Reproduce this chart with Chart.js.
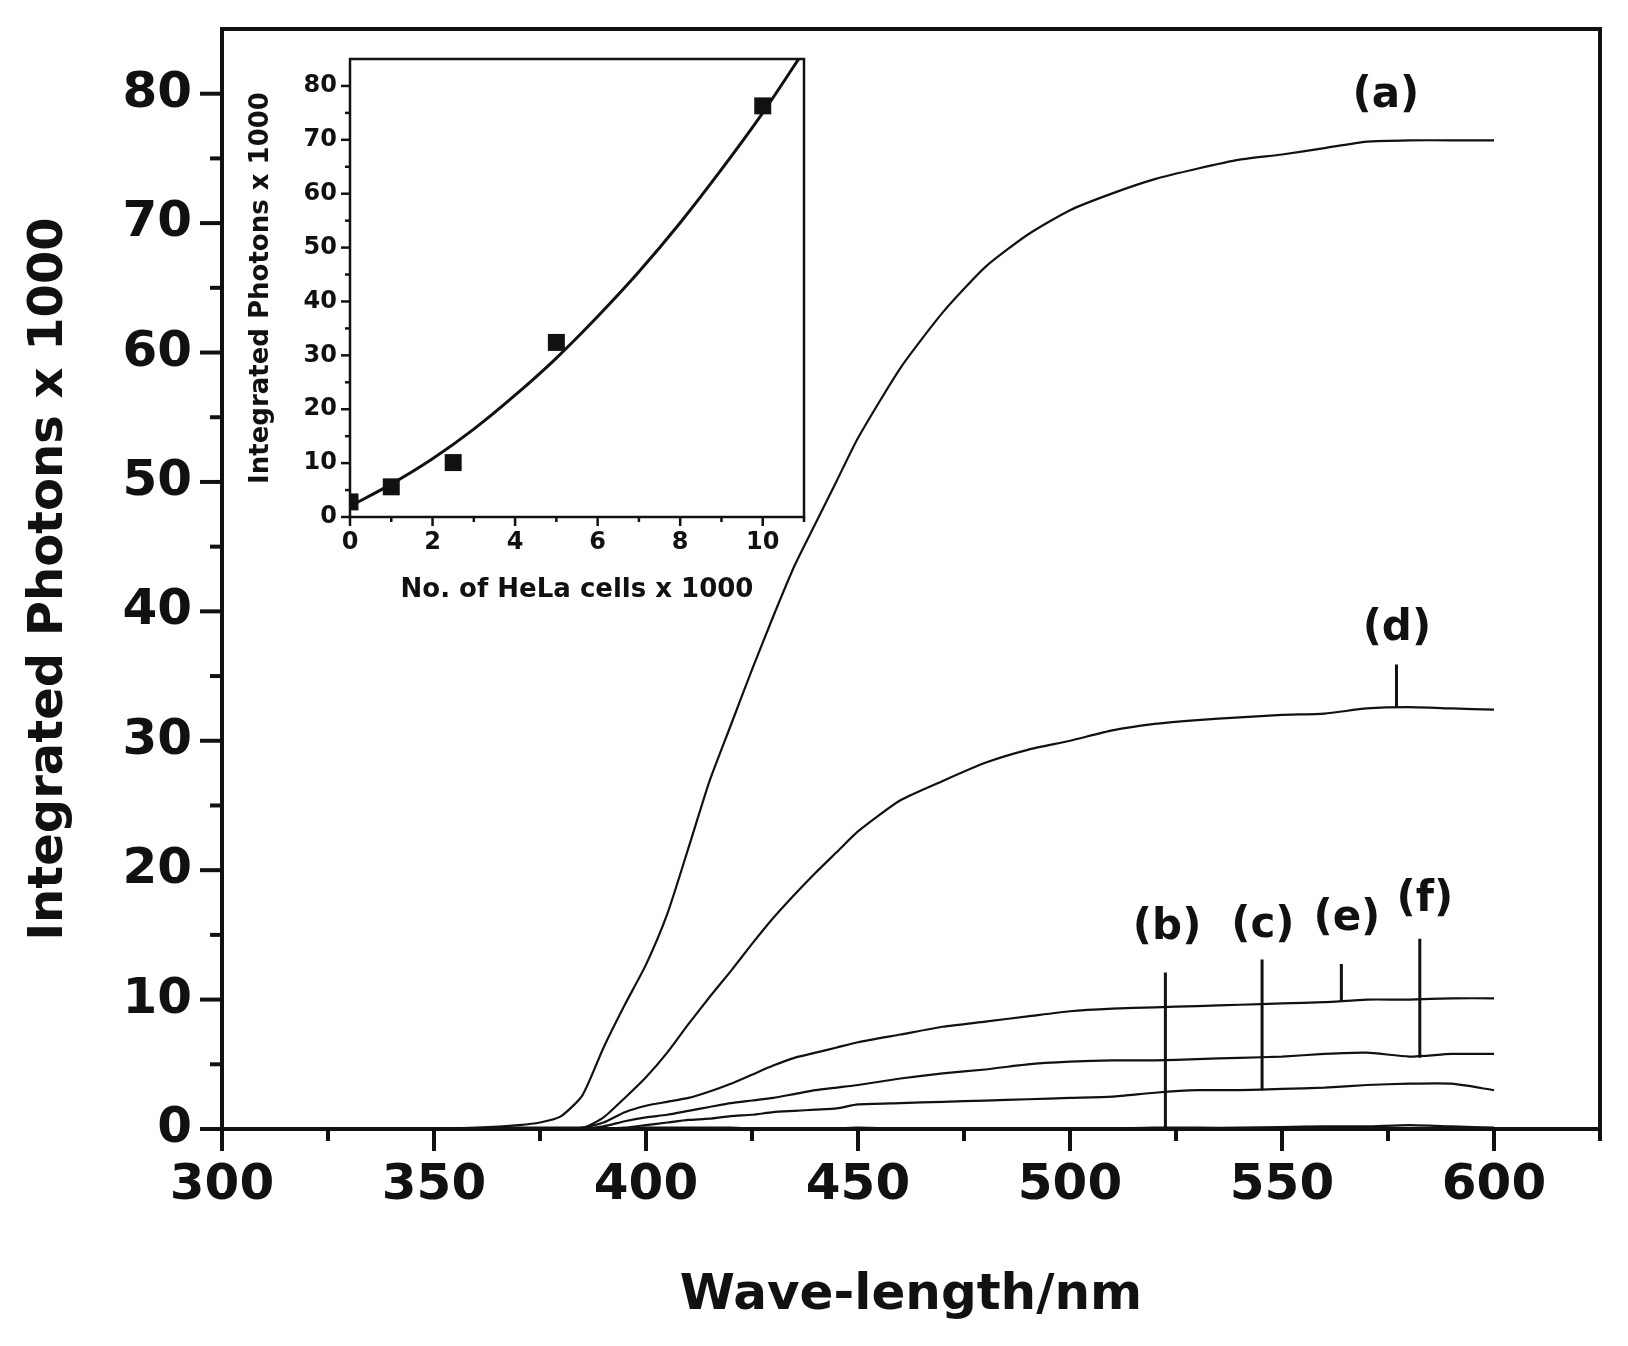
<!DOCTYPE html>
<html>
<head>
<meta charset="utf-8">
<title>Integrated photons vs wavelength</title>
<script src="https://cdn.jsdelivr.net/npm/chart.js@4.4.1/dist/chart.umd.min.js"></script>
<style>
  html, body { margin: 0; padding: 0; background: #fff; }
  #wrap { position: relative; width: 1628px; height: 1346px; }
  #main { position: absolute; left: 0; top: 0; }
  #inset { position: absolute; left: 230px; top: 40px; }
</style>
</head>
<body>
<div id="wrap">
  <canvas id="main" width="1628" height="1346"></canvas>
  <canvas id="inset" width="600" height="580"></canvas>
</div>
<script>
// main plot: integrated photons (x 1000) against wavelength, curves (a)-(f)
const wavelength = [350, 360, 370, 375, 380, 385, 390, 395, 400, 405, 410, 415, 420, 425, 430, 435, 440, 445, 450,
                    460, 470, 480, 490, 500, 510, 520, 530, 540, 550, 560, 570, 580, 590, 600];
const curveA = [0, 0.1, 0.3, 0.5, 1.0, 2.6, 6.3, 9.6, 12.7, 16.6, 21.7, 26.9, 31.2, 35.5, 39.6, 43.5, 46.8, 50.1, 53.4,
                58.8, 63.1, 66.6, 69.1, 71.0, 72.3, 73.4, 74.2, 74.9, 75.3, 75.8, 76.3, 76.4, 76.4, 76.4];
const curveB = [0, 0.05, 0.1, 0.1, 0.1, 0.1, 0.05, 0.05, 0.1, 0.1, 0.1, 0.1, 0.1, 0.05, 0.05, 0.05, 0.05, 0.05, 0.1,
                0.05, 0.05, 0.05, 0.05, 0.05, 0.05, 0.1, 0.1, 0.1, 0.15, 0.2, 0.2, 0.3, 0.2, 0.1];
const curveC = [0, 0, 0, 0, 0, 0, 0, 0.1, 0.3, 0.5, 0.7, 0.8, 1.0, 1.1, 1.3, 1.4, 1.5, 1.6, 1.9,
                2.0, 2.1, 2.2, 2.3, 2.4, 2.5, 2.8, 3.0, 3.0, 3.1, 3.2, 3.4, 3.5, 3.5, 3.0];
const curveD = [0, 0, 0, 0, 0, 0.05, 0.9, 2.4, 4.0, 5.9, 8.1, 10.2, 12.2, 14.3, 16.3, 18.1, 19.8, 21.4, 23.0,
                25.4, 26.9, 28.3, 29.3, 30.0, 30.8, 31.3, 31.6, 31.8, 32.0, 32.1, 32.5, 32.6, 32.5, 32.4];
const curveE = [0, 0, 0, 0, 0, 0.1, 0.5, 1.3, 1.8, 2.1, 2.4, 2.9, 3.5, 4.2, 4.9, 5.5, 5.9, 6.3, 6.7,
                7.3, 7.9, 8.3, 8.7, 9.1, 9.3, 9.4, 9.5, 9.6, 9.7, 9.8, 10.0, 10.0, 10.1, 10.1];
const curveF = [0, 0, 0, 0, 0, 0, 0.2, 0.6, 0.9, 1.1, 1.4, 1.7, 2.0, 2.2, 2.4, 2.7, 3.0, 3.2, 3.4,
                3.9, 4.3, 4.6, 5.0, 5.2, 5.3, 5.3, 5.4, 5.5, 5.6, 5.8, 5.9, 5.6, 5.8, 5.8];

// curve labels and their leader lines (wavelength / photon units)
const labelText = ['(a)', '(b)', '(c)', '(d)', '(e)', '(f)'];
const labelWave = [574.5, 522.9, 545.5, 577.1, 565.3, 583.7];
const labelValue = [79.8, 15.5, 15.7, 38.6, 16.2, 17.7];
const leaderWave = [null, 522.5, 545.3, 577, 564, 582.5];
const leaderTop = [null, 12.1, 13.1, 35.9, 12.75, 14.7];
const leaderBottom = [null, 0, 3.0, 32.6, 9.9, 5.5];

// inset: photons against number of HeLa cells
const cellCount = [0, 1, 2.5, 5, 10];
const cellPhotons = [2.8, 5.6, 10.1, 32.4, 76.3];
const fitCells = [0, 1, 2, 3, 4, 5, 6, 7, 8, 9, 10, 11];
const fitPhotons = [2, 6.1, 10.8, 16.3, 22.6, 29.5, 37.2, 45.5, 54.6, 64.5, 75, 86.5];

const FONT = "'DejaVu Sans', Verdana, sans-serif";

function toPoints(xs, ys) {
    return xs.map((x, i) => ({ x: x, y: ys[i] }));
}

// fixed axis boxes so the plot area lands where the figure has it
function fixWidth(w) {
    return s => { s.width = w; s.paddingTop = 0; s.paddingBottom = 0; };
}
function fixHeight(h) {
    return s => { s.height = h; s.paddingLeft = 0; s.paddingRight = 0; };
}

// box round the plot plus outward major/minor ticks, taken from the scales
const frameTicks = {
    id: 'frameTicks',
    afterDraw(chart, args, opts) {
        const { ctx, chartArea: a, scales: { x, y } } = chart;
        ctx.save();
        ctx.strokeStyle = '#111';
        ctx.lineCap = 'butt';
        ctx.lineWidth = opts.tickWidth;
        x.ticks.forEach(t => {
            const px = x.getPixelForValue(t.value);
            const len = t.value % opts.xMajor === 0 ? opts.majorLen : opts.minorLen;
            ctx.beginPath();
            ctx.moveTo(px, a.bottom);
            ctx.lineTo(px, a.bottom + len);
            ctx.stroke();
        });
        y.ticks.forEach(t => {
            if (t.value >= y.max) return;
            const py = y.getPixelForValue(t.value);
            const len = t.value % opts.yMajor === 0 ? opts.majorLen : opts.minorLen;
            ctx.beginPath();
            ctx.moveTo(a.left, py);
            ctx.lineTo(a.left - len, py);
            ctx.stroke();
        });
        ctx.lineWidth = opts.frameWidth;
        ctx.strokeRect(a.left, a.top, a.right - a.left, a.bottom - a.top);
        ctx.restore();
    }
};

const curveLabels = {
    id: 'curveLabels',
    afterDatasetsDraw(chart) {
        const { ctx, scales: { x, y } } = chart;
        ctx.save();
        ctx.fillStyle = '#111';
        ctx.font = 'bold 42px ' + FONT;
        ctx.textAlign = 'center';
        ctx.textBaseline = 'middle';
        labelText.forEach((txt, i) => {
            ctx.fillText(txt, x.getPixelForValue(labelWave[i]), y.getPixelForValue(labelValue[i]));
        });
        ctx.restore();
    }
};

const curveSets = [curveA, curveB, curveC, curveD, curveE, curveF].map(vals => ({
    data: toPoints(wavelength, vals),
    showLine: true,
    borderColor: '#111',
    borderWidth: 2.2,
    pointRadius: 0,
    tension: 0.2
}));

const leaderSets = [];
leaderWave.forEach((w, i) => {
    if (w === null) return;
    leaderSets.push({
        data: [{ x: w, y: leaderTop[i] }, { x: w, y: leaderBottom[i] }],
        showLine: true,
        borderColor: '#111',
        borderWidth: 3,
        pointRadius: 0
    });
});

new Chart(document.getElementById('main'), {
    type: 'scatter',
    data: { datasets: curveSets.concat(leaderSets) },
    options: {
        responsive: false,
        animation: false,
        devicePixelRatio: 1,
        layout: { padding: { top: 29, right: 28, left: 0, bottom: 0 } },
        plugins: {
            legend: { display: false },
            tooltip: { enabled: false },
            frameTicks: { tickWidth: 4, frameWidth: 4, majorLen: 22, minorLen: 12, xMajor: 50, yMajor: 10 }
        },
        scales: {
            x: {
                type: 'linear',
                min: 300,
                max: 625,
                afterFit: fixHeight(217),
                grid: { display: false, drawTicks: false },
                border: { display: false },
                ticks: {
                    stepSize: 25,
                    autoSkip: false,
                    maxRotation: 0,
                    padding: 27,
                    color: '#111',
                    font: { family: FONT, size: 50, weight: 'bold' },
                    callback: v => (v % 50 === 0 && v < 625 ? v : '')
                },
                title: {
                    display: true,
                    text: 'Wave-length/nm',
                    color: '#111',
                    font: { family: FONT, size: 50, weight: 'bold' },
                    padding: { top: 0, bottom: 20 }
                }
            },
            y: {
                min: 0,
                max: 85,
                afterFit: fixWidth(222),
                grid: { display: false, drawTicks: false },
                border: { display: false },
                ticks: {
                    stepSize: 5,
                    autoSkip: false,
                    padding: 30,
                    color: '#111',
                    font: { family: FONT, size: 50, weight: 'bold' },
                    callback: v => (v % 10 === 0 ? v : '')
                },
                title: {
                    display: true,
                    text: 'Integrated Photons x 1000',
                    color: '#111',
                    font: { family: FONT, size: 48, weight: 'bold' },
                    padding: { top: 21, bottom: 0 }
                }
            }
        }
    },
    plugins: [frameTicks, curveLabels]
});

new Chart(document.getElementById('inset'), {
    type: 'scatter',
    data: {
        datasets: [
            {
                data: toPoints(cellCount, cellPhotons),
                pointStyle: 'rect',
                pointRadius: 12,
                backgroundColor: '#111',
                borderColor: '#111',
                borderWidth: 0
            },
            {
                data: toPoints(fitCells, fitPhotons),
                showLine: true,
                borderColor: '#111',
                borderWidth: 3,
                pointRadius: 0,
                cubicInterpolationMode: 'monotone'
            }
        ]
    },
    options: {
        responsive: false,
        animation: false,
        devicePixelRatio: 1,
        layout: { padding: { top: 19, right: 26, left: 0, bottom: 0 } },
        plugins: {
            legend: { display: false },
            tooltip: { enabled: false },
            frameTicks: { tickWidth: 2.5, frameWidth: 2.5, majorLen: 9, minorLen: 5, xMajor: 2, yMajor: 10 }
        },
        scales: {
            x: {
                type: 'linear',
                min: 0,
                max: 11,
                afterFit: fixHeight(103),
                grid: { display: false, drawTicks: false },
                border: { display: false },
                ticks: {
                    stepSize: 1,
                    autoSkip: false,
                    maxRotation: 0,
                    padding: 11,
                    color: '#111',
                    font: { family: FONT, size: 24, weight: 'bold' },
                    callback: v => (v % 2 === 0 ? v : '')
                },
                title: {
                    display: true,
                    text: 'No. of HeLa cells x 1000',
                    color: '#111',
                    font: { family: FONT, size: 26, weight: 'bold' },
                    padding: { top: 0, bottom: 14 }
                }
            },
            y: {
                min: 0,
                max: 85,
                afterFit: fixWidth(120),
                grid: { display: false, drawTicks: false },
                border: { display: false },
                ticks: {
                    stepSize: 5,
                    autoSkip: false,
                    padding: 13,
                    color: '#111',
                    font: { family: FONT, size: 24, weight: 'bold' },
                    callback: v => (v % 10 === 0 ? v : '')
                },
                title: {
                    display: true,
                    text: 'Integrated Photons x 1000',
                    color: '#111',
                    font: { family: FONT, size: 26, weight: 'bold' },
                    padding: { top: 16, bottom: 0 }
                }
            }
        }
    },
    plugins: [frameTicks]
});
</script>
</body>
</html>
